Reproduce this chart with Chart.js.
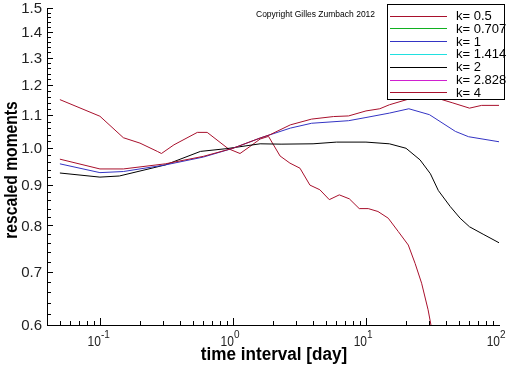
<!DOCTYPE html>
<html>
<head>
<meta charset="utf-8">
<script src="https://cdn.jsdelivr.net/npm/chart.js@4.4.1/dist/chart.umd.min.js"></script>
<style>
  html, body { margin: 0; padding: 0; background: #fff; }
  #wrap { width: 512px; height: 366px; }
</style>
</head>
<body>
<div id="wrap"><canvas id="chart"></canvas></div>
<script>
// curve values (time interval in days, rescaled moment)
const timeK05 = [0.05, 0.1, 0.15, 0.31, 0.6, 1, 1.6, 1.9, 2.7, 3.9, 5.7, 7.4, 10, 12.7, 15, 21, 27, 36, 45, 60, 74, 100];
const momentK05 = [0.969, 0.942, 0.942, 0.956, 0.977, 1.0, 1.03, 1.04, 1.07, 1.088, 1.096, 1.098, 1.114, 1.121, 1.134, 1.153, 1.159, 1.153, 1.14, 1.123, 1.132, 1.132];

const timeK1 = [0.05, 0.1, 0.15, 0.31, 0.6, 1, 1.6, 2.7, 3.9, 7.4, 10, 15, 21, 30, 47, 59, 100];
const momentK1 = [0.956, 0.932, 0.935, 0.953, 0.975, 1.0, 1.03, 1.06, 1.075, 1.083, 1.093, 1.107, 1.121, 1.102, 1.05, 1.034, 1.019];

const timeK2 = [0.05, 0.1, 0.14, 0.31, 0.57, 0.9, 1.6, 2.3, 4, 6, 10, 15, 20, 25.5, 30.5, 35, 43, 51, 60, 76, 100];
const momentK2 = [0.931, 0.92, 0.923, 0.953, 0.991, 0.999, 1.013, 1.012, 1.013, 1.018, 1.018, 1.013, 1.0, 0.967, 0.929, 0.885, 0.845, 0.817, 0.797, 0.78, 0.761];

const timeK4 = [0.05, 0.1, 0.15, 0.2, 0.27, 0.29, 0.36, 0.54, 0.64, 0.92, 1.13, 1.34, 1.6, 1.85, 2.26, 2.68, 3.19, 3.79, 4.5, 5.3, 6.3, 7.5, 8.9, 10.4, 12.3, 14.7, 17.5, 20.8, 23.4, 26.2, 29.3, 32];
const momentK4 = [1.151, 1.097, 1.031, 1.015, 0.991, 0.985, 1.01, 1.047, 1.047, 0.999, 0.985, 1.005, 1.027, 1.035, 0.978, 0.958, 0.944, 0.899, 0.887, 0.862, 0.874, 0.864, 0.84, 0.84, 0.833, 0.817, 0.786, 0.756, 0.717, 0.677, 0.627, 0.58];

// these three are in the legend but not visible in the plot
const timeK0707 = [];
const momentK0707 = [];
const timeK1414 = [];
const momentK1414 = [];
const timeK2828 = [];
const momentK2828 = [];

const seriesLabels = ['k= 0.5', 'k= 0.707', 'k= 1', 'k= 1.414', 'k= 2', 'k= 2.828', 'k= 4'];
const seriesColors = ['#a8102c', '#10b020', '#3434c4', '#20e0e0', '#000000', '#d020d0', '#a8102c'];

const yTickValues = [0.6, 0.7, 0.8, 0.9, 1.0, 1.1, 1.2, 1.3, 1.4, 1.5];
const yTickLabels = ['0.6', '0.7', '0.8', '0.9', '1.0', '1.1', '1.2', '1.3', '1.4', '1.5'];
const xTickValues = [0.1, 1, 10, 100];
const xTickExponents = ['-1', '0', '1', '2'];

const pairs = (xs, ys) => xs.map((x, i) => ({ x, y: ys[i] }));
const seriesData = [
  pairs(timeK05, momentK05),
  pairs(timeK0707, momentK0707),
  pairs(timeK1, momentK1),
  pairs(timeK1414, momentK1414),
  pairs(timeK2, momentK2),
  pairs(timeK2828, momentK2828),
  pairs(timeK4, momentK4),
];

const labelFont = '"Liberation Sans", Arial, sans-serif';

// squeezed text, the original lettering is a little condensed
function narrowText(ctx, text, x, y, squeeze, angle) {
  ctx.save();
  ctx.translate(x, y);
  if (angle) ctx.rotate(angle);
  ctx.scale(squeeze, 1);
  ctx.fillText(text, 0, 0);
  ctx.restore();
}

// inward ticks, tick labels, axis titles and the boxed legend, Tecplot style
const tecplotFrame = {
  id: 'tecplotFrame',
  afterDraw(chart) {
    const { ctx, chartArea: area, scales: { x, y } } = chart;
    ctx.save();
    ctx.strokeStyle = '#000';
    ctx.lineWidth = 1;
    ctx.beginPath();

    for (let i = 0; i <= 45; i++) {
      const v = 0.6 + i * 0.02;
      const py = Math.round(y.getPixelForValue(v)) + 0.5;
      const len = i % 5 === 0 ? 6 : 4;
      ctx.moveTo(area.left, py);
      ctx.lineTo(area.left + len, py);
    }

    for (const decade of [0.01, 0.1, 1, 10]) {
      for (let m = 1; m <= 9; m++) {
        const v = decade * m;
        if (v < x.min || v > x.max * 1.0001) continue;
        const px = Math.round(x.getPixelForValue(v)) + 0.5;
        const len = m === 1 ? 7 : 4;
        ctx.moveTo(px, area.bottom);
        ctx.lineTo(px, area.bottom - len);
      }
    }
    ctx.stroke();

    ctx.fillStyle = '#222';
    ctx.font = '15px ' + labelFont;
    ctx.textAlign = 'right';
    ctx.textBaseline = 'middle';
    yTickValues.forEach((v, i) => {
      ctx.fillText(yTickLabels[i], area.left - 5, y.getPixelForValue(v) + 1);
    });

    ctx.textBaseline = 'alphabetic';
    xTickValues.forEach((v, i) => {
      const px = x.getPixelForValue(v);
      ctx.font = '15px ' + labelFont;
      ctx.textAlign = 'right';
      narrowText(ctx, '10', px + 1, 346, 0.8);
      ctx.font = '10px ' + labelFont;
      ctx.textAlign = 'left';
      ctx.fillText(xTickExponents[i], px + 1, 338);
    });

    ctx.fillStyle = '#000';
    ctx.font = 'bold 18px ' + labelFont;
    ctx.textAlign = 'center';
    ctx.textBaseline = 'middle';
    narrowText(ctx, 'time interval [day]', 274, 355, 0.95);
    narrowText(ctx, 'rescaled moments', 12, 170, 0.87, -Math.PI / 2);

    ctx.font = '8.5px ' + labelFont;
    ctx.textAlign = 'left';
    ctx.fillText('Copyright Gilles Zumbach 2012', 256, 15);

    // legend box
    ctx.fillStyle = '#fff';
    ctx.fillRect(387, 4, 118, 95);
    ctx.strokeRect(387.5, 4.5, 117, 95);
    ctx.font = '13px ' + labelFont;
    chart.data.datasets.forEach((ds, i) => {
      const ly = 15.5 + i * 12.8;
      ctx.strokeStyle = ds.borderColor;
      ctx.beginPath();
      ctx.moveTo(390, Math.round(ly) + 0.5);
      ctx.lineTo(447, Math.round(ly) + 0.5);
      ctx.stroke();
      ctx.fillStyle = '#000';
      ctx.fillText(ds.label, 456, ly + 1);
    });
    ctx.restore();
  },
};

new Chart(document.getElementById('chart'), {
  type: 'line',
  data: {
    datasets: seriesData.map((data, i) => ({
      label: seriesLabels[i],
      data,
      borderColor: seriesColors[i],
      borderWidth: 1,
      pointRadius: 0,
      tension: 0,
      fill: false,
    })),
  },
  options: {
    responsive: true,
    maintainAspectRatio: false,
    animation: false,
    layout: { padding: { left: 47, top: 8, right: 13, bottom: 41 } },
    plugins: {
      legend: { display: false },
      tooltip: { enabled: false },
    },
    scales: {
      x: {
        type: 'logarithmic',
        min: 0.04,
        max: 100,
        grid: { display: false, drawTicks: false },
        border: { display: true, color: '#000', width: 1 },
        ticks: { display: false },
      },
      y: {
        type: 'logarithmic',
        min: 0.6,
        max: 1.5,
        grid: { display: false, drawTicks: false },
        border: { display: true, color: '#000', width: 1 },
        ticks: { display: false },
      },
    },
  },
  plugins: [tecplotFrame],
});
</script>
</body>
</html>
